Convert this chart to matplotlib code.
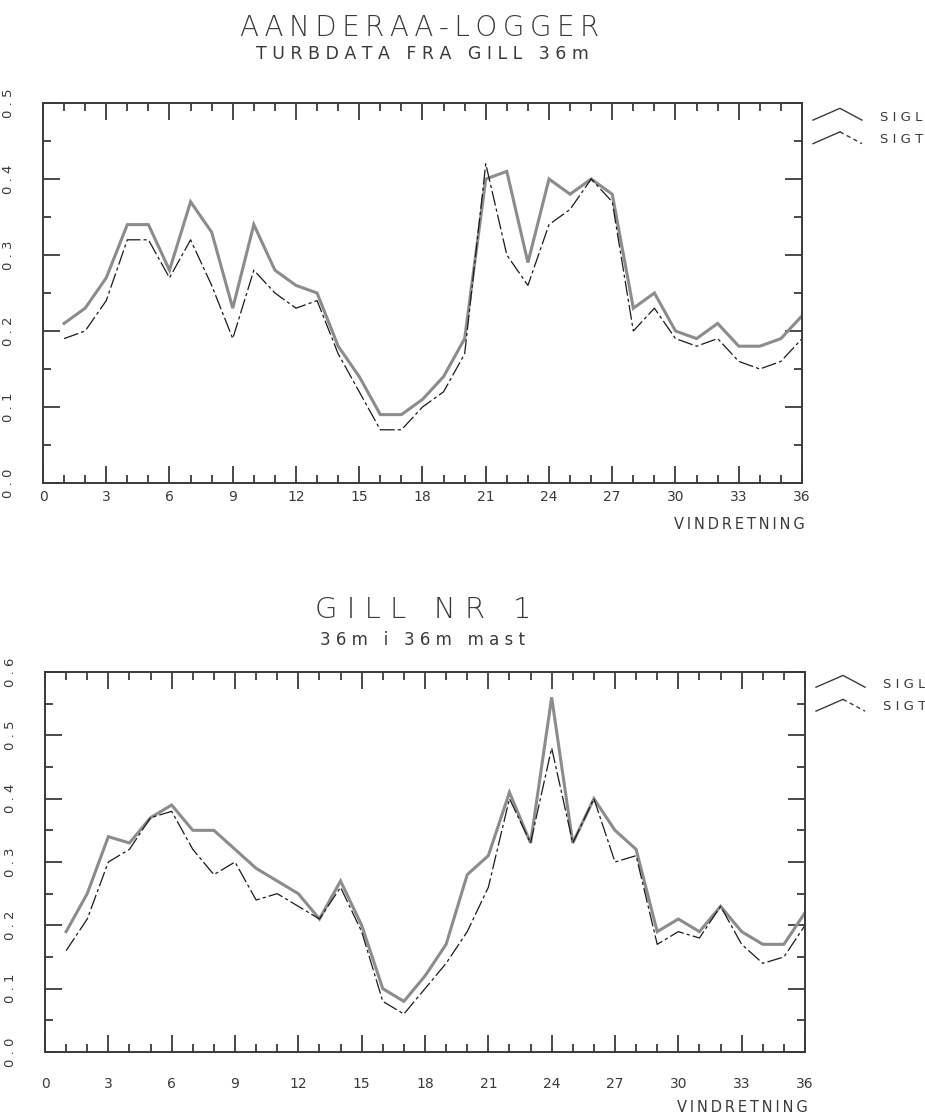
import matplotlib
matplotlib.use("Agg")
import matplotlib.pyplot as plt
from matplotlib.ticker import MultipleLocator, FixedLocator

# ---------------- data ----------------
direction = list(range(1, 37))

top_sigl = [0.21, 0.23, 0.27, 0.34, 0.34, 0.28, 0.37, 0.33, 0.23, 0.34,
            0.28, 0.26, 0.25, 0.18, 0.14, 0.09, 0.09, 0.11, 0.14, 0.19,
            0.40, 0.41, 0.29, 0.40, 0.38, 0.40, 0.38, 0.23, 0.25, 0.20,
            0.19, 0.21, 0.18, 0.18, 0.19, 0.22]
top_sigt = [0.19, 0.20, 0.24, 0.32, 0.32, 0.27, 0.32, 0.26, 0.19, 0.28,
            0.25, 0.23, 0.24, 0.17, 0.12, 0.07, 0.07, 0.10, 0.12, 0.17,
            0.42, 0.30, 0.26, 0.34, 0.36, 0.40, 0.37, 0.20, 0.23, 0.19,
            0.18, 0.19, 0.16, 0.15, 0.16, 0.19]

bot_sigl = [0.19, 0.25, 0.34, 0.33, 0.37, 0.39, 0.35, 0.35, 0.32, 0.29,
            0.27, 0.25, 0.21, 0.27, 0.20, 0.10, 0.08, 0.12, 0.17, 0.28,
            0.31, 0.41, 0.33, 0.56, 0.33, 0.40, 0.35, 0.32, 0.19, 0.21,
            0.19, 0.23, 0.19, 0.17, 0.17, 0.22]
bot_sigt = [0.16, 0.21, 0.30, 0.32, 0.37, 0.38, 0.32, 0.28, 0.30, 0.24,
            0.25, 0.23, 0.21, 0.26, 0.19, 0.08, 0.06, 0.10, 0.14, 0.19,
            0.26, 0.40, 0.33, 0.48, 0.33, 0.40, 0.30, 0.31, 0.17, 0.19,
            0.18, 0.23, 0.17, 0.14, 0.15, 0.20]

x_ticks = [0, 3, 6, 9, 12, 15, 18, 21, 24, 27, 30, 33, 36]
top_yticks = [0.0, 0.1, 0.2, 0.3, 0.4, 0.5]
bot_yticks = [0.0, 0.1, 0.2, 0.3, 0.4, 0.5, 0.6]
series_names = ["SIGL", "SIGT"]
xlabel_text = "VINDRETNING"
top_title = "AANDERAA-LOGGER"
top_sub = "TURBDATA FRA GILL 36m"
bot_title = "GILL NR 1"
bot_sub = "36m i 36m mast"

# ---------------- style ----------------
INK = "#3a3a3a"
GREY = "#8c8c8c"
DASH = (0, (12, 2.5, 2.5, 2.5))
THIN = "\u2009"


def spaced(s, sep=" "):
    return sep.join(list(s))


fig = plt.figure(figsize=(9.25, 11.2), dpi=100)
W, H = 925.0, 1120.0


def make_axes(px_left, px_top, px_right, px_bottom):
    return fig.add_axes([px_left / W, 1 - px_bottom / H,
                         (px_right - px_left) / W, (px_bottom - px_top) / H])


def style_axes(ax, yticks, ymax, xpad, xlab_y):
    ax.set_xlim(0, 36)
    ax.set_ylim(0, ymax)
    for sp in ax.spines.values():
        sp.set_color(INK)
        sp.set_linewidth(1.4)
    ax.xaxis.set_major_locator(FixedLocator(x_ticks))
    ax.xaxis.set_minor_locator(MultipleLocator(1))
    ax.yaxis.set_major_locator(FixedLocator(yticks))
    ax.yaxis.set_minor_locator(MultipleLocator(0.05))
    ax.tick_params(which="both", direction="in", top=True, right=True,
                   color=INK, width=1.3)
    ax.tick_params(which="major", length=12)
    ax.tick_params(which="minor", length=6)
    ax.tick_params(axis="x", which="major", pad=xpad, labelsize=10,
                   labelcolor=INK)
    ax.tick_params(axis="y", which="major", pad=20, labelsize=9.5,
                   labelcolor=INK)
    ax.set_xticklabels([str(t) for t in x_ticks])
    ax.set_yticklabels([spaced("%.1f" % t) for t in yticks],
                       rotation=90, va="center")
    ax.text(1.004, xlab_y, spaced(xlabel_text, THIN), transform=ax.transAxes,
            ha="right", va="center", fontsize=10.5, color=INK)


def legend(ax, y_l, y_t):
    # tent-shaped glyphs to the right of the axes (axes-fraction coords)
    xl, xp, xr = 1.0145, 1.050, 1.079
    h = 0.031
    ax.plot([xl, xp, xr], [y_l, y_l + h, y_l], transform=ax.transAxes,
            clip_on=False, color=INK, lw=1.0)
    ax.plot([xl, xp], [y_t, y_t + h], transform=ax.transAxes,
            clip_on=False, color=INK, lw=1.0)
    ax.plot([xp, xr], [y_t + h, y_t], transform=ax.transAxes,
            clip_on=False, color=INK, lw=1.0, linestyle=(0, (3, 2.5)))
    ax.text(1.103, y_l + 0.008, spaced(series_names[0]), transform=ax.transAxes,
            ha="left", va="center", fontsize=9.5, color=INK)
    ax.text(1.103, y_t + 0.012, spaced(series_names[1]), transform=ax.transAxes,
            ha="left", va="center", fontsize=9.5, color=INK)


# ---------------- top panel ----------------
ax1 = make_axes(43, 103, 802, 483)
ax1.plot(direction, top_sigl, color=GREY, lw=2.2, solid_joinstyle="miter")
ax1.plot(direction, top_sigt, color="#1a1a1a", lw=0.9, linestyle=DASH)
style_axes(ax1, top_yticks, 0.5, 5, -0.108)
legend(ax1, 0.955, 0.893)

fig.text(420 / W, 1 - 28 / H, spaced(top_title, THIN), ha="center",
         va="center", fontsize=20, color=INK, fontweight="light")
fig.text(422 / W, 1 - 54 / H, spaced(top_sub), ha="center", va="center",
         fontsize=12.5, color=INK)

# ---------------- bottom panel ----------------
ax2 = make_axes(45, 672, 805, 1052)
ax2.plot(direction, bot_sigl, color=GREY, lw=2.2, solid_joinstyle="miter")
ax2.plot(direction, bot_sigt, color="#1a1a1a", lw=0.9, linestyle=DASH)
style_axes(ax2, bot_yticks, 0.6, 18, -0.145)
legend(ax2, 0.96, 0.897)

fig.text(423 / W, 1 - 610 / H, spaced(bot_title), ha="center", va="center",
         fontsize=21, color=INK, fontweight="light")
fig.text(423 / W, 1 - 640 / H, spaced(bot_sub), ha="center", va="center",
         fontsize=12, color=INK)

fig.savefig("out.png", dpi=100, facecolor="white")
